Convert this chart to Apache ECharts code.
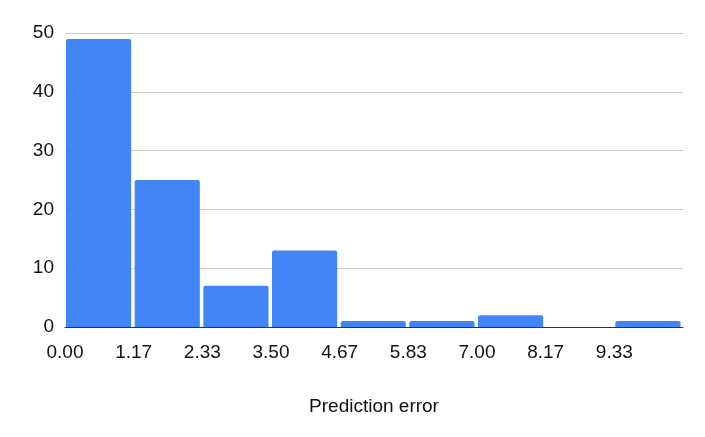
<!DOCTYPE html>
<html><head><meta charset="utf-8">
<script src="https://cdn.jsdelivr.net/npm/echarts@6/dist/echarts.min.js"></script>
<style>html,body{margin:0;padding:0;background:#fff}#c{width:705px;height:437px}</style>
</head><body><div id="c"></div>
<script>
const binStarts = [0, 1.1667, 2.3333, 3.5, 4.6667, 5.8333, 7, 8.1667, 9.3333];
const binEnds = [1.1667, 2.3333, 3.5, 4.6667, 5.8333, 7, 8.1667, 9.3333, 10.5];
const counts = [49, 25, 7, 13, 1, 1, 2, 0, 1];
const tickLabels = ["0.00", "1.17", "2.33", "3.50", "4.67", "5.83", "7.00", "8.17", "9.33"];
const xName = "Prediction error";

const data = counts.map((c, i) => [binStarts[i], binEnds[i], c]);
const chart = echarts.init(document.getElementById('c'));
chart.setOption({
  animation: false,
  grid: {left: 65, right: 22, top: 33, bottom: 110},
  xAxis: {
    type: 'value', min: 0, max: 10.5, interval: 7/6,
    name: xName, nameLocation: 'middle', nameGap: 70,
    nameTextStyle: {fontFamily: 'Liberation Sans', fontSize: 19, color: '#111'},
    axisLine: {show: true, lineStyle: {color: '#333', width: 1}},
    axisTick: {show: false},
    splitLine: {show: false},
    axisLabel: {
      margin: 16, fontFamily: 'Liberation Sans', fontSize: 19, color: '#111',
      showMaxLabel: false,
      formatter: function (v) {
        const idx = Math.round(v / (7/6));
        return idx < tickLabels.length ? tickLabels[idx] : '';
      }
    }
  },
  yAxis: {
    type: 'value', min: 0, max: 50, interval: 10,
    axisLine: {show: false}, axisTick: {show: false},
    splitLine: {lineStyle: {color: '#cccccc', width: 1}},
    axisLabel: {margin: 11, fontFamily: 'Liberation Sans', fontSize: 19, color: '#111'}
  },
  series: [{
    type: 'custom',
    data: data,
    encode: {x: [0, 1], y: 2},
    renderItem: function (params, api) {
      const s = api.coord([api.value(0), api.value(2)]);
      const e = api.coord([api.value(1), 0]);
      const x0 = s[0] + 1, x1 = e[0] - 2.5;
      const h = e[1] - s[1];
      if (h <= 0) return null;
      return {
        type: 'rect',
        shape: {x: x0, y: s[1], width: x1 - x0, height: h, r: [2, 2, 0, 0]},
        style: {fill: '#4285F4'}
      };
    }
  }]
});
</script></body></html>
